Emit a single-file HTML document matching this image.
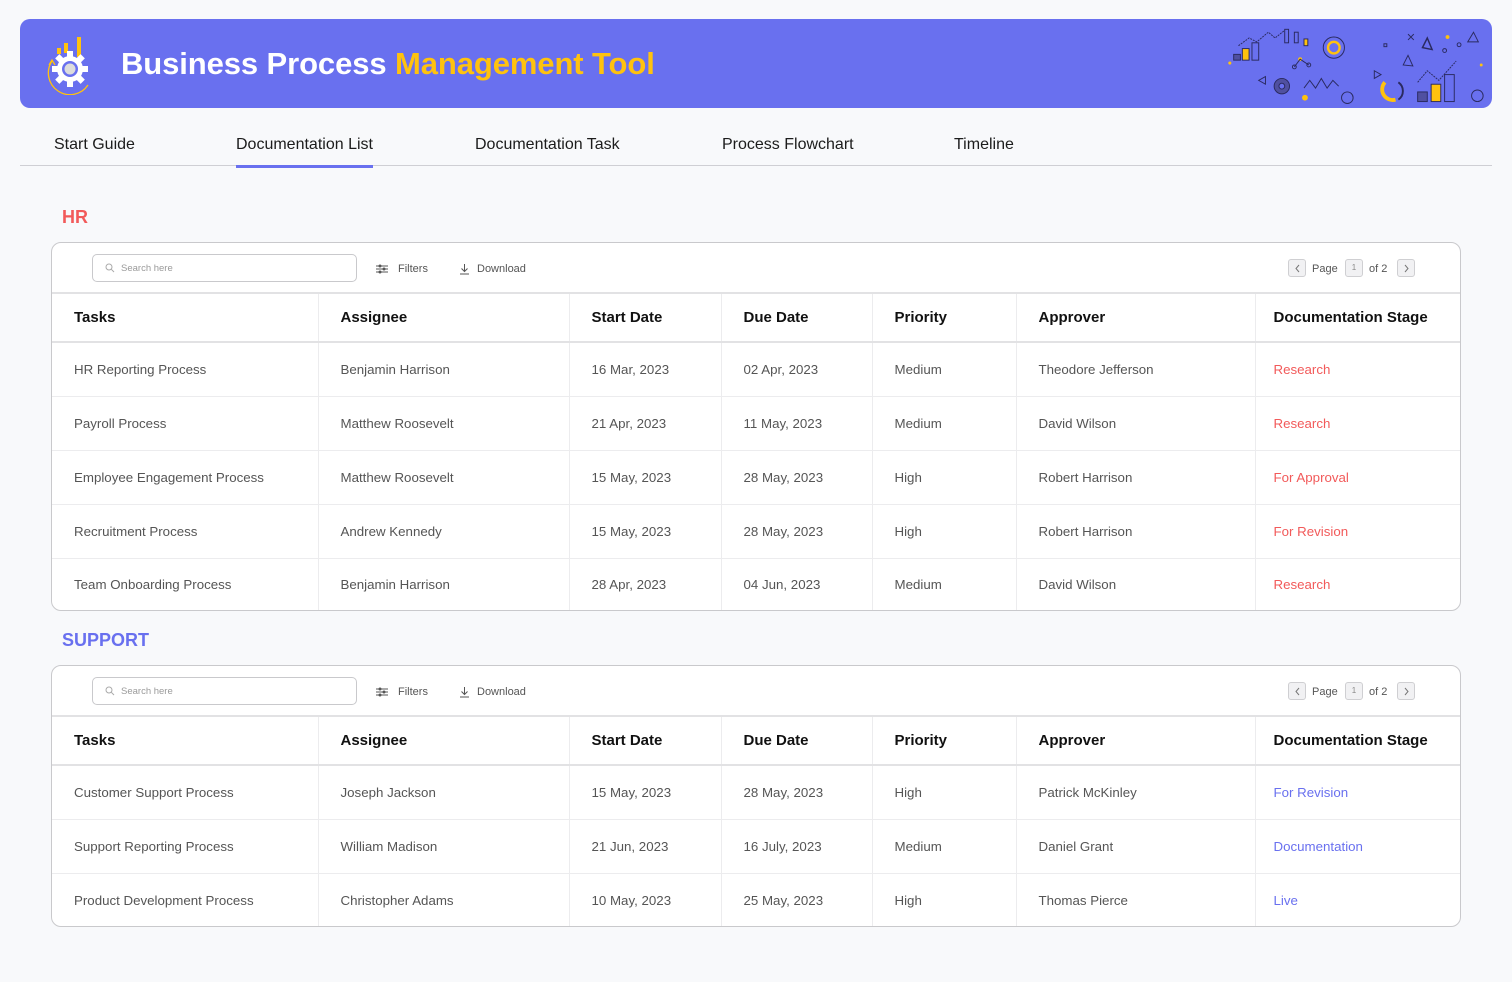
<!DOCTYPE html>
<html><head><meta charset="utf-8">
<style>
*{margin:0;padding:0;box-sizing:border-box}
body{width:1512px;height:982px;background:#f8f9fb;font-family:"Liberation Sans",sans-serif;position:relative;overflow:hidden}
.banner{position:absolute;left:20px;top:19px;width:1472px;height:89px;background:#6970ef;border-radius:10px}
.title{position:absolute;font-size:31px;font-weight:bold;color:#fff;letter-spacing:-0.1px;white-space:nowrap}
.title span{color:#ffc20e}
.tabs{position:absolute;left:20px;top:128px;width:1472px;height:38px;border-bottom:1px solid #cfcfd4}
.tab{position:absolute;top:8px;font-size:16px;color:#1c1c1c;white-space:nowrap}
.tab.active:after{content:"";position:absolute;left:0;right:0;top:29px;height:3px;background:#6970ef}
.sec{position:absolute;font-size:18px;font-weight:bold}
.box{position:absolute;left:51px;width:1410px;background:#fff;border:1.5px solid #c9c9cc;border-radius:10px;overflow:hidden}
.tool{position:relative;height:51px;border-bottom:2px solid #e2e2e4}
.search{position:absolute;left:40px;top:11px;width:265px;height:28px;border:1px solid #c9c9cc;border-radius:5px;font-size:9.5px;color:#9a9a9a;padding:8px 0 0 28px}
.search svg{position:absolute;left:12px;top:8px}
.tl{position:absolute;top:20px;font-size:11px;color:#555;white-space:nowrap}
.pb{position:absolute;top:16px;width:18px;height:18px;border:1px solid #cfcfd2;border-radius:3px;background:#f1f1f3;font-size:8px;color:#888;text-align:center;line-height:16px}
.pb svg{position:absolute;left:5px;top:4px}
table{border-collapse:collapse;table-layout:fixed;width:100%}
th{height:48px;text-align:left;font-size:15px;font-weight:bold;color:#111;border-bottom:2px solid #e2e2e4;border-right:1px solid #ececee;padding-left:22px}
td{text-align:left;font-size:13.3px;color:#555;border-top:1px solid #ececee;border-right:1px solid #ececee;padding-left:22px;white-space:nowrap}
tr:first-child td{border-top:none}
th:last-child,td:last-child{border-right:none;padding-left:18px}
.r{color:#f25a5a}.b{color:#6970ef}
</style></head><body>
<div class="banner">
<svg style="position:absolute;left:24px;top:16px" width="52" height="60" viewBox="0 0 52 60">
<rect x="13" y="13" width="4" height="6" fill="#ffc20e"/><rect x="20" y="8" width="4" height="10" fill="#ffc20e"/><rect x="33" y="2" width="4" height="20" fill="#ffc20e"/>
<g transform="translate(26,34)" fill="#fff">
<circle r="13"/>
<g><rect x="-3" y="-18" width="6" height="7"/><rect x="-3" y="11" width="6" height="7"/><rect x="-18" y="-3" width="7" height="6"/><rect x="11" y="-3" width="7" height="6"/>
<g transform="rotate(45)"><rect x="-3" y="-18" width="6" height="7"/><rect x="-3" y="11" width="6" height="7"/><rect x="-18" y="-3" width="7" height="6"/><rect x="11" y="-3" width="7" height="6"/></g></g>
<circle r="8" fill="#6970ef"/><circle r="5.5" fill="#dcdcdc"/>
</g>
<path d="M8 26 A20 20 0 0 0 44 50" fill="none" stroke="#ffc20e" stroke-width="1.3"/>
<path d="M5 30 L8 25 L11 30" fill="none" stroke="#ffc20e" stroke-width="1.3"/>
</svg>
<div class="title" style="left:101px;top:27px">Business Process <span>Management Tool</span></div>
<svg style="position:absolute;left:1205px;top:4px" width="262" height="82" viewBox="0 0 272 82" fill="none" stroke="#2a2a60" stroke-width="1">
<path d="M14 22 L25 14 L33 18 L45 8 L52 14 L62 6" stroke-dasharray="2 1"/>
<rect x="9" y="31" width="7" height="6" fill="#5050a0"/><rect x="18" y="25" width="7" height="12" fill="#ffc20e"/><rect x="28" y="19" width="7" height="18"/>
<circle cx="5" cy="40" r="1.6" fill="#ffc20e" stroke="none"/>
<rect x="62" y="5" width="4" height="14"/><rect x="72" y="8" width="4" height="11"/><rect x="82" y="15" width="4" height="7" fill="#ffc20e"/>
<circle cx="113" cy="24" r="11"/><circle cx="113" cy="24" r="6" stroke="#ffc20e" stroke-width="2.5"/>
<circle cx="78" cy="36" r="2" fill="#ffc20e" stroke="none"/><circle cx="72" cy="44" r="2"/><circle cx="87" cy="42" r="2"/><path d="M72 44 L78 36 L87 42"/>
<rect x="165" y="20" width="3" height="3"/>
<path d="M190 10 L196 16 M196 10 L190 16"/><path d="M205 24 L210 14 L215 26 Z" stroke-width="1.5"/>
<path d="M185 42 L190 32 L195 43 Z"/><circle cx="231" cy="13" r="2" fill="#ffc20e" stroke="none"/><circle cx="228" cy="27" r="2"/><circle cx="243" cy="21" r="2"/>
<path d="M252 18 L258 8 L263 18 Z"/><circle cx="266" cy="42" r="1.5" fill="#ffc20e" stroke="none"/>
<path d="M42 54 L35 58 L42 62 Z"/>
<circle cx="59" cy="64" r="8" fill="#5050a0"/><circle cx="59" cy="64" r="3" fill="#6970ef"/>
<circle cx="83" cy="76" r="3" fill="#ffc20e" stroke="none"/>
<path d="M82 66 L88 58 L94 66 L100 56 L106 66 L112 58 L118 64"/>
<circle cx="127" cy="76" r="6"/><path d="M155 48 L162 52 L155 56 Z"/>
<path d="M166 60 A11 11 0 0 0 177 78" stroke="#ffc20e" stroke-width="4"/><path d="M180 60 A11 11 0 0 1 180 78" stroke-width="2"/>
<path d="M200 60 L210 48 L222 58 L240 38" stroke-dasharray="2 1"/>
<rect x="200" y="70" width="10" height="10" fill="#5050a0"/><rect x="214" y="62" width="10" height="18" fill="#ffc20e"/><rect x="228" y="52" width="10" height="28"/>
<circle cx="262" cy="74" r="6"/>
</svg>
</div>
<div class="tabs">
<div class="tab" style="left:34px">Start Guide</div>
<div class="tab active" style="left:216px">Documentation List</div>
<div class="tab" style="left:455px">Documentation Task</div>
<div class="tab" style="left:702px">Process Flowchart</div>
<div class="tab" style="left:934px">Timeline</div>
</div>

<div class="sec" style="left:62px;top:207px;color:#f25a5a">HR</div>
<div class="box" style="top:242px;height:369px">
<div class="tool">
<div class="search"><svg width="10" height="10" viewBox="0 0 10 10" fill="none" stroke="#aaa" stroke-width="1"><circle cx="4" cy="4" r="3"/><path d="M6.3 6.3 L9 9"/></svg>Search here</div>
<svg style="position:absolute;left:324px;top:21px" width="12" height="10" viewBox="0 0 12 10" stroke="#555" stroke-width="1"><path d="M0 2H12M0 5H12M0 8H12"/><circle cx="4" cy="2" r="1" fill="#555"/><circle cx="8" cy="5" r="1" fill="#555"/><circle cx="4" cy="8" r="1" fill="#555"/></svg>
<div class="tl" style="left:346px">Filters</div>
<svg style="position:absolute;left:407px;top:21px" width="11" height="11" viewBox="0 0 11 11" fill="none" stroke="#555" stroke-width="1"><path d="M5.5 0V7M2.5 4.5L5.5 7.5L8.5 4.5M1 10H10"/></svg>
<div class="tl" style="left:425px">Download</div>
<div class="pb" style="left:1236px"><svg width="7" height="9" viewBox="0 0 7 9" fill="none" stroke="#777" stroke-width="1"><path d="M5 1 L2 4.5 L5 8"/></svg></div>
<div class="tl" style="left:1260px">Page</div>
<div class="pb" style="left:1293px">1</div>
<div class="tl" style="left:1317px">of 2</div>
<div class="pb" style="left:1345px"><svg width="7" height="9" viewBox="0 0 7 9" fill="none" stroke="#777" stroke-width="1"><path d="M2 1 L5 4.5 L2 8"/></svg></div>
</div>
<table>
<colgroup><col style="width:266px"><col style="width:251px"><col style="width:152px"><col style="width:151px"><col style="width:144px"><col style="width:239px"><col></colgroup>
<tr><th>Tasks</th><th>Assignee</th><th>Start Date</th><th>Due Date</th><th>Priority</th><th>Approver</th><th>Documentation Stage</th></tr>
<tbody>
<tr style="height:54px"><td>HR Reporting Process</td><td>Benjamin Harrison</td><td>16 Mar, 2023</td><td>02 Apr, 2023</td><td>Medium</td><td>Theodore Jefferson</td><td class="r">Research</td></tr>
<tr style="height:54px"><td>Payroll Process</td><td>Matthew Roosevelt</td><td>21 Apr, 2023</td><td>11 May, 2023</td><td>Medium</td><td>David Wilson</td><td class="r">Research</td></tr>
<tr style="height:54px"><td>Employee Engagement Process</td><td>Matthew Roosevelt</td><td>15 May, 2023</td><td>28 May, 2023</td><td>High</td><td>Robert Harrison</td><td class="r">For Approval</td></tr>
<tr style="height:54px"><td>Recruitment Process</td><td>Andrew Kennedy</td><td>15 May, 2023</td><td>28 May, 2023</td><td>High</td><td>Robert Harrison</td><td class="r">For Revision</td></tr>
<tr style="height:53px"><td>Team Onboarding Process</td><td>Benjamin Harrison</td><td>28 Apr, 2023</td><td>04 Jun, 2023</td><td>Medium</td><td>David Wilson</td><td class="r">Research</td></tr>
</tbody></table>
</div>

<div class="sec" style="left:62px;top:630px;color:#6970ef">SUPPORT</div>
<div class="box" style="top:665px;height:262px">
<div class="tool">
<div class="search"><svg width="10" height="10" viewBox="0 0 10 10" fill="none" stroke="#aaa" stroke-width="1"><circle cx="4" cy="4" r="3"/><path d="M6.3 6.3 L9 9"/></svg>Search here</div>
<svg style="position:absolute;left:324px;top:21px" width="12" height="10" viewBox="0 0 12 10" stroke="#555" stroke-width="1"><path d="M0 2H12M0 5H12M0 8H12"/><circle cx="4" cy="2" r="1" fill="#555"/><circle cx="8" cy="5" r="1" fill="#555"/><circle cx="4" cy="8" r="1" fill="#555"/></svg>
<div class="tl" style="left:346px">Filters</div>
<svg style="position:absolute;left:407px;top:21px" width="11" height="11" viewBox="0 0 11 11" fill="none" stroke="#555" stroke-width="1"><path d="M5.5 0V7M2.5 4.5L5.5 7.5L8.5 4.5M1 10H10"/></svg>
<div class="tl" style="left:425px">Download</div>
<div class="pb" style="left:1236px"><svg width="7" height="9" viewBox="0 0 7 9" fill="none" stroke="#777" stroke-width="1"><path d="M5 1 L2 4.5 L5 8"/></svg></div>
<div class="tl" style="left:1260px">Page</div>
<div class="pb" style="left:1293px">1</div>
<div class="tl" style="left:1317px">of 2</div>
<div class="pb" style="left:1345px"><svg width="7" height="9" viewBox="0 0 7 9" fill="none" stroke="#777" stroke-width="1"><path d="M2 1 L5 4.5 L2 8"/></svg></div>
</div>
<table>
<colgroup><col style="width:266px"><col style="width:251px"><col style="width:152px"><col style="width:151px"><col style="width:144px"><col style="width:239px"><col></colgroup>
<tr><th>Tasks</th><th>Assignee</th><th>Start Date</th><th>Due Date</th><th>Priority</th><th>Approver</th><th>Documentation Stage</th></tr>
<tbody>
<tr style="height:54px"><td>Customer Support Process</td><td>Joseph Jackson</td><td>15 May, 2023</td><td>28 May, 2023</td><td>High</td><td>Patrick McKinley</td><td class="b">For Revision</td></tr>
<tr style="height:54px"><td>Support Reporting Process</td><td>William Madison</td><td>21 Jun, 2023</td><td>16 July, 2023</td><td>Medium</td><td>Daniel Grant</td><td class="b">Documentation</td></tr>
<tr style="height:54px"><td>Product Development Process</td><td>Christopher Adams</td><td>10 May, 2023</td><td>25 May, 2023</td><td>High</td><td>Thomas Pierce</td><td class="b">Live</td></tr>
</tbody></table>
</div>
</body></html>
